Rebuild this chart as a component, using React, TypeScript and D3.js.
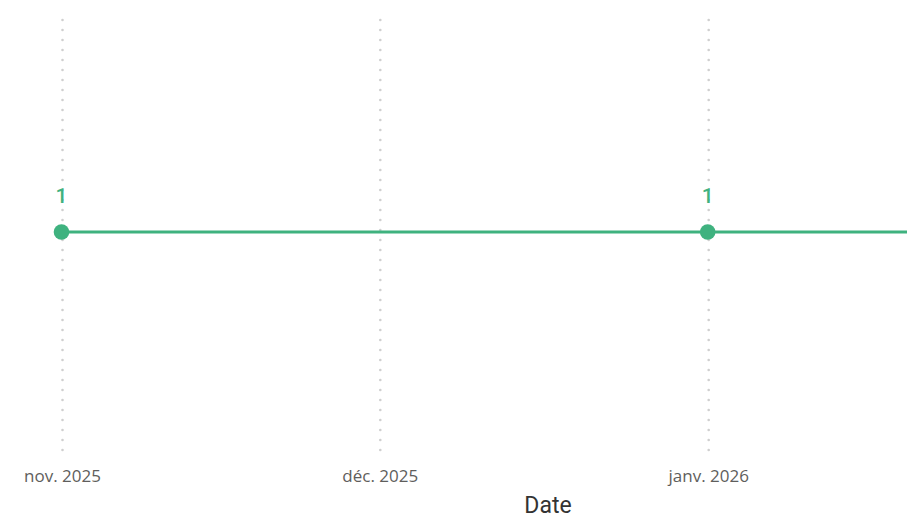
import React from "react";
import * as d3 from "d3";

const dates: string[] = ["2025-11-01", "2026-01-01", "2026-02-01"];
const counts: number[] = [1, 1, 1];
const tickDates: string[] = ["2025-11-01", "2025-12-01", "2026-01-01"];
const tickLabels: string[] = ["nov. 2025", "déc. 2025", "janv. 2026"];
const axisTitle = "Date";

const W = 907;
const H = 520;
const GREEN = "#3fb27f";

export default function App() {
  const parse = d3.utcParse("%Y-%m-%d");
  const x = d3
    .scaleUtc()
    .domain([parse("2025-11-01")!, parse("2026-01-01")!])
    .range([62.5, 708.7]);
  const y = d3.scaleLinear().domain([0, 2]).range([444, 20]);
  const pts = dates.map((d, i) => ({ date: parse(d)!, v: counts[i] }));
  const line = d3
    .line<{ date: Date; v: number }>()
    .x((d) => x(d.date))
    .y((d) => y(d.v));
  const plotRight = 1096;
  const visible = pts.filter((p) => x(p.date) < W - 10);

  return (
    <svg
      width={W}
      height={H}
      style={{ position: "absolute", left: 0, top: 0, background: "#fff" }}
    >
      <defs>
        <clipPath id="clip">
          <rect x={0} y={0} width={W} height={H} />
        </clipPath>
      </defs>
      <g clipPath="url(#clip)">
        {tickDates.map((t, i) => (
          <line
            key={"g" + i}
            x1={x(parse(t)!)}
            x2={x(parse(t)!)}
            y1={20}
            y2={455}
            stroke="#cfcfcf"
            strokeWidth={2.6}
            strokeDasharray="0 10"
            strokeLinecap="round"
          />
        ))}
        <path d={line(pts) || ""} fill="none" stroke={GREEN} strokeWidth={3} />
        {visible.map((p, i) => (
          <g key={"p" + i}>
            <circle cx={x(p.date) - 1} cy={y(p.v)} r={7.8} fill={GREEN} />
            <text
              x={x(p.date) - 1}
              y={y(p.v) - 29}
              textAnchor="middle"
              fontFamily="Roboto, 'Open Sans', sans-serif"
              fontWeight={500}
              fontSize={21}
              fill={GREEN}
            >
              {p.v}
            </text>
          </g>
        ))}
        {tickDates.map((t, i) => (
          <text
            key={"t" + i}
            x={x(parse(t)!)}
            y={482}
            textAnchor="middle"
            fontFamily="'Open Sans', sans-serif"
            fontSize={17}
            fill="#605e5c"
          >
            {tickLabels[i]}
          </text>
        ))}
        <text
          x={plotRight / 2}
          y={513}
          textAnchor="middle"
          fontFamily="Roboto, sans-serif"
          fontSize={23}
          fill="#333"
        >
          {axisTitle}
        </text>
      </g>
    </svg>
  );
}
